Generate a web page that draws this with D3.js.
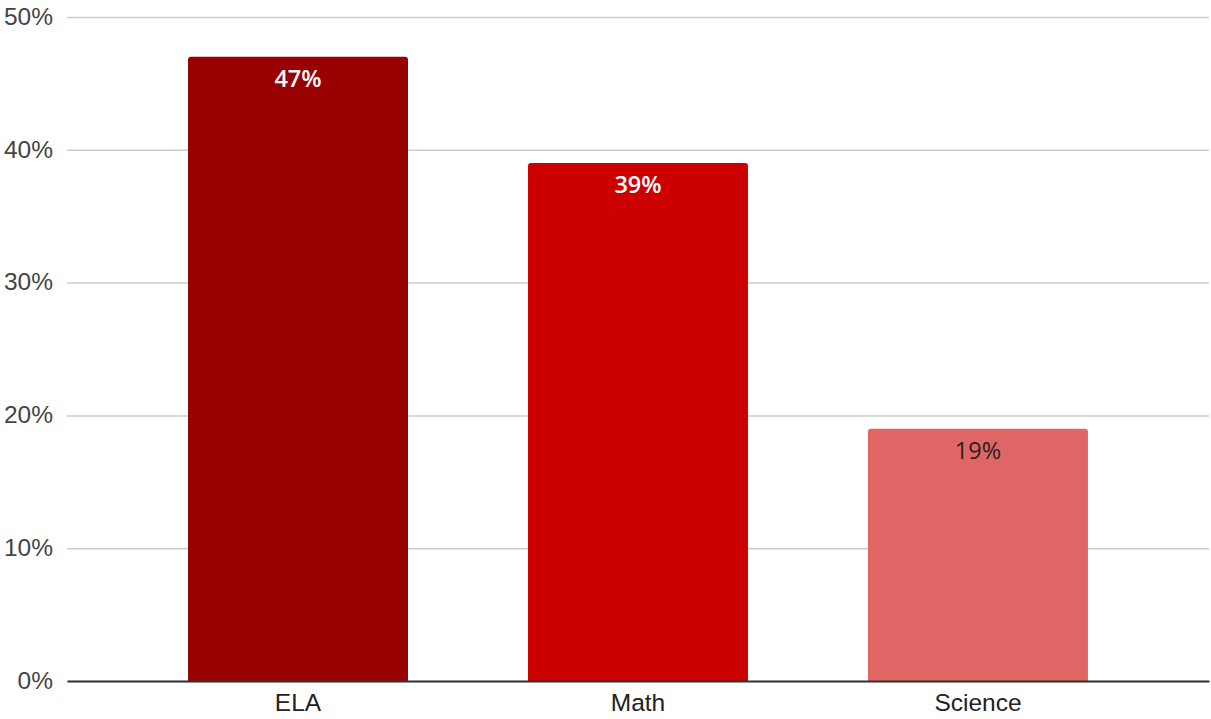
<!DOCTYPE html>
<html><head><meta charset="utf-8">
<script src="https://cdn.jsdelivr.net/npm/d3@7"></script>
<style>body{margin:0;background:#fff}svg{display:block}</style>
</head><body>
<svg id="c" width="1211" height="719"></svg>
<script>
const categories = ["ELA", "Math", "Science"];
const values = [0.47, 0.39, 0.19];
const barColors = ["#990000", "#cc0000", "#e06666"];
const labelColors = ["#ffffff", "#ffffff", "#222222"];
const yTicks = [0, 0.1, 0.2, 0.3, 0.4, 0.5];

(function () {
const svg = d3.select("#c");
const mLeft = 67, mRight = 1209, mTop = 17, mBottom = 681;
const x = d3.scaleBand().domain(categories).range([mLeft, mRight]).paddingInner(0.353).paddingOuter(0.356);
const y = d3.scaleLinear().domain([0, 0.5]).range([mBottom, mTop]);
const axisFont = "'Liberation Sans', Arial, sans-serif";
const labelFont = "'Open Sans', 'Noto Sans', sans-serif";

const yAxis = svg.append("g").attr("transform", `translate(${mLeft},0)`)
  .call(d3.axisLeft(y).tickValues(yTicks).tickFormat(d3.format(".0%")).tickSize(-(mRight - mLeft)).tickPadding(14));
yAxis.select(".domain").remove();
yAxis.selectAll(".tick line").attr("stroke", "#cccccc").attr("stroke-width", 1.5);
yAxis.selectAll(".tick text").attr("font-family", axisFont).attr("font-size", 24.5).attr("fill", "#444").attr("dy", "0.3em");

svg.append("g").selectAll("path").data(categories).join("path")
  .attr("fill", (d, i) => barColors[i])
  .attr("d", (d, i) => {
    const x0 = x(d), w = x.bandwidth(), y0 = y(values[i]), h = y(0) - y0, r = 3;
    return `M${x0},${y0 + h}V${y0 + r}Q${x0},${y0} ${x0 + r},${y0}H${x0 + w - r}Q${x0 + w},${y0} ${x0 + w},${y0 + r}V${y0 + h}Z`;
  });

svg.append("g").selectAll("text").data(categories).join("text")
  .attr("x", d => x(d) + x.bandwidth() / 2)
  .attr("y", (d, i) => y(values[i]) + 30)
  .attr("text-anchor", "middle")
  .attr("font-family", labelFont).attr("font-size", 23.5)
  .attr("font-weight", (d, i) => i < 2 ? 600 : 400)
  .attr("fill", (d, i) => labelColors[i])
  .text((d, i) => d3.format(".0%")(values[i]));

const xAxis = svg.append("g").attr("transform", `translate(0,${mBottom})`)
  .call(d3.axisBottom(x).tickSize(0).tickPadding(13));
xAxis.select(".domain").attr("stroke", "#333").attr("stroke-width", 2);
xAxis.selectAll(".tick text").attr("font-family", axisFont).attr("font-size", 24.5).attr("fill", "#222");
})();
</script>
</body></html>
